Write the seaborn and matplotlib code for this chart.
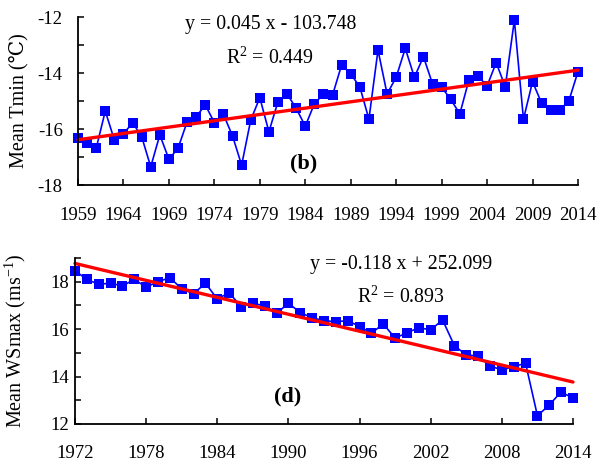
import numpy as np
import pandas as pd
import matplotlib
matplotlib.use("Agg")
import matplotlib.pyplot as plt
from matplotlib.ticker import MultipleLocator
import seaborn as sns

# ---- data ----
years_b = list(range(1959, 2015))
tmin_b = [-16.33, -16.51, -16.69, -15.36, -16.39, -16.18, -15.77, -16.27, -17.35, -16.21,
          -17.08, -16.69, -15.75, -15.56, -15.14, -15.77, -15.48, -16.25, -17.29, -15.68,
          -14.88, -16.10, -15.02, -14.75, -15.26, -15.90, -15.10, -14.75, -14.79, -13.71,
          -14.04, -14.49, -15.65, -13.18, -14.75, -14.15, -13.12, -14.15, -13.42, -14.39,
          -14.51, -14.94, -15.46, -14.25, -14.11, -14.46, -13.63, -14.49, -12.11, -15.65,
          -14.31, -15.08, -15.32, -15.32, -14.99, -13.95]
years_d = list(range(1972, 2015))
ws_d = [18.46, 18.10, 17.89, 17.94, 17.82, 18.10, 17.77, 18.00, 18.17, 17.70,
        17.49, 17.94, 17.27, 17.54, 16.95, 17.09, 16.98, 16.67, 17.09, 16.70,
        16.48, 16.36, 16.31, 16.36, 16.11, 15.83, 16.22, 15.62, 15.85, 16.06,
        15.97, 16.39, 15.30, 14.91, 14.87, 14.45, 14.28, 14.42, 14.56, 12.35,
        12.80, 13.36, 13.08]
xticks_b = list(range(1959, 2015, 5))
xticks_d = list(range(1972, 2015, 6))
eq_b = "y = 0.045 x - 103.748"
r2_b = "R$^2$ = 0.449"
eq_d = "y = -0.118 x + 252.099"
r2_d = "R$^2$ = 0.893"

df_b = pd.DataFrame({"year": years_b, "val": tmin_b})
df_d = pd.DataFrame({"year": years_d, "val": ws_d})

sns.set_theme(style="ticks")
plt.rcParams["font.family"] = ["Liberation Serif", "DejaVu Serif"]
plt.rcParams["mathtext.fontset"] = "custom"
plt.rcParams["mathtext.rm"] = "Liberation Serif"
plt.rcParams["mathtext.it"] = "Liberation Serif:italic"
plt.rcParams["mathtext.bf"] = "Liberation Serif:bold"
plt.rcParams["axes.unicode_minus"] = False

W, H = 603, 467
fig = plt.figure(figsize=(W/100, H/100), dpi=100)
ax1 = fig.add_axes([78/W, 1-185/H, 500/W, 168/H])
ax2 = fig.add_axes([75/W, 1-424/H, 498/W, 166/H])

FS = 13.5
TFS = 14.3
LFS = 14.5

def ftext(x, y, s, **kw):
    fig.text(x/W, 1-y/H, s, ha="center", va="center", color="black", **kw)

def style(ax):
    for s in ["top", "right"]:
        ax.spines[s].set_visible(False)
    for s in ["left", "bottom"]:
        ax.spines[s].set_color("black")
        ax.spines[s].set_linewidth(1.3)
    ax.tick_params(which="both", direction="in", length=4.5, width=1.1, color="black",
                   labelsize=FS, labelcolor="black")
    ax.set_xlabel("")
    for ln in ax.lines:
        ln.set_clip_on(False)

# top panel
sns.lineplot(data=df_b, x="year", y="val", ax=ax1, color="blue", marker="s",
             markersize=6.5, markeredgewidth=0, linewidth=1.2)
sns.regplot(data=df_b, x="year", y="val", ax=ax1, scatter=False, ci=None,
            color="red", line_kws={"linewidth": 2.4})
ax1.set_xlim(1959, 2014)
ax1.set_ylim(-18, -12)
ax1.set_xticks(xticks_b)
ax1.yaxis.set_major_locator(MultipleLocator(2))
ax1.yaxis.set_minor_locator(MultipleLocator(1))
style(ax1)
ax1.tick_params(axis="x", pad=16)
ax1.tick_params(axis="y", pad=11)
ax1.set_ylabel("Mean Tmin (℃)", fontsize=LFS, color="black")
ax1.yaxis.set_label_coords((28-78)/500, 0.5)
ftext(271, 25, eq_b, fontsize=TFS)
ftext(270, 58, r2_b, fontsize=TFS)
ftext(304, 163, "(b)", fontsize=16, fontweight="bold")

# bottom panel
sns.lineplot(data=df_d, x="year", y="val", ax=ax2, color="blue", marker="s",
             markersize=6.5, markeredgewidth=0, linewidth=1.2)
sns.regplot(data=df_d, x="year", y="val", ax=ax2, scatter=False, ci=None,
            color="red", line_kws={"linewidth": 2.4})
ax2.set_xlim(1972, 2014)
ax2.set_ylim(12, 19)
ax2.set_xticks(xticks_d)
ax2.yaxis.set_major_locator(MultipleLocator(2))
ax2.yaxis.set_minor_locator(MultipleLocator(1))
style(ax2)
ax2.tick_params(axis="x", pad=15)
ax2.tick_params(axis="y", pad=4)
ax2.set_ylabel("Mean WSmax (ms$^{-1}$)", fontsize=LFS, color="black")
ax2.yaxis.set_label_coords((28-75)/498, 0.5)
ftext(401, 265, eq_d, fontsize=TFS)
ftext(401, 297, r2_d, fontsize=TFS)
ftext(288, 396, "(d)", fontsize=16, fontweight="bold")

fig.savefig("out.png", dpi=100, facecolor="white")
